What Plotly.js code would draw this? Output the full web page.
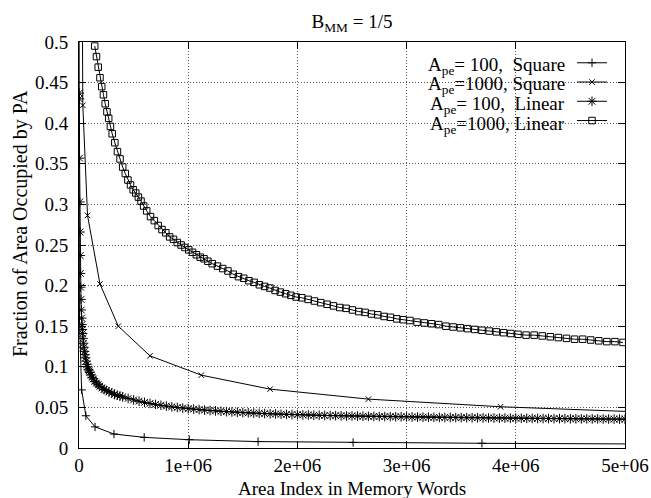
<!DOCTYPE html>
<html>
<head>
<meta charset="utf-8">
<script src="https://cdn.plot.ly/plotly-3.0.1.min.js"></script>
<style>html,body{margin:0;padding:0;background:#fff;}#chart{width:651px;height:498px;}</style>
</head>
<body>
<div id="chart"></div>
<script>
// ---- data ----
const chartTitle = 'B<sub>MM</sub> = 1/5';
const xTitle = 'Area Index in Memory Words';
const yTitle = 'Fraction of Area Occupied by PA';
const seriesLabels = [
  'A<sub>pe</sub>=\u00a0100,\u00a0\u00a0Square',
  'A<sub>pe</sub>=1000,\u00a0Square',
  'A<sub>pe</sub>=\u00a0100,\u00a0\u00a0Linear',
  'A<sub>pe</sub>=1000,\u00a0Linear'
];
const xTickVals = [0, 1000000, 2000000, 3000000, 4000000, 5000000];
const xTickText = ['0', '1e+06', '2e+06', '3e+06', '4e+06', '5e+06'];

// A_pe = 100, Square
const xSq100 = [256, 4000, 24000, 63000, 147000, 320000, 597000, 1010000, 1640000, 2510000, 3690000, 5200000];
const ySq100 = [0.64, 0.16, 0.0716, 0.0397, 0.026, 0.0172, 0.0131, 0.0102, 0.0079, 0.0068, 0.0058, 0.0049];

// A_pe = 1000, Square
const xSq1000 = [4300, 35000, 78000, 192000, 360000, 650000, 1120000, 1750000, 2650000, 3860000, 5500000];
const ySq1000 = [1.25, 0.422, 0.2865, 0.202, 0.150, 0.1135, 0.0897, 0.0725, 0.0602, 0.0508, 0.0426];

// A_pe = 100, Linear
const xLin100 = [2000,3000,5000,7000,9000,11000,13000,15000,18000,21000,24000,27000,30000,33000,37000,41000,45000,50000,55000,60000,66000,72000,78000,85000,92000,100000,110000,120000,132000,145000,160000,175000,190000,210000,230000,250000,275000,300000,325000,350000,375000,
400000,450000,500000,550000,600000,650000,700000,750000,800000,850000,900000,950000,1000000,
1050000,1100000,1150000,1200000,1250000,1300000,1350000,1400000,1450000,1500000,
1550000,1600000,1650000,1700000,1750000,1800000,1850000,1900000,1950000,2000000,
2050000,2100000,2150000,2200000,2250000,2300000,2350000,2400000,2450000,2500000,
2550000,2600000,2650000,2700000,2750000,2800000,2850000,2900000,2950000,3000000,
3050000,3100000,3150000,3200000,3250000,3300000,3350000,3400000,3450000,3500000,
3550000,3600000,3650000,3700000,3750000,3800000,3850000,3900000,3950000,4000000,
4050000,4100000,4150000,4200000,4250000,4300000,4350000,4400000,4450000,4500000,
4550000,4600000,4650000,4700000,4750000,4800000,4850000,4900000,4950000,5000000];
const yLin100 = [0.437,0.430,0.357,0.303,0.266,0.237,0.215,0.198,0.183,0.170,0.160,0.152,0.146,0.141,0.135,0.129,0.124,0.119,0.115,0.111,0.107,0.103,0.100,0.097,0.095,0.093,0.090,0.087,0.085,0.082,0.080,0.078,0.076,0.074,0.072,0.071,0.069,0.068,0.066,0.065,0.064,
0.0630,0.0610,0.0592,0.0576,0.0562,0.0549,0.0537,0.0526,0.0516,0.0507,0.0499,0.0492,0.0485,
0.0479,0.0473,0.0467,0.0462,0.0457,0.0452,0.0448,0.0444,0.0440,0.0436,
0.0433,0.0430,0.0427,0.0424,0.0421,0.0419,0.0416,0.0414,0.0412,0.0410,
0.0408,0.0406,0.0404,0.0403,0.0401,0.0400,0.0398,0.0397,0.0395,0.0394,
0.0393,0.0391,0.0390,0.0389,0.0388,0.0387,0.0386,0.0385,0.0384,0.0383,
0.0382,0.0381,0.0380,0.0379,0.0378,0.0377,0.0376,0.0376,0.0375,0.0374,
0.0373,0.0372,0.0372,0.0371,0.0370,0.0369,0.0369,0.0368,0.0367,0.0367,
0.0366,0.0365,0.0365,0.0364,0.0363,0.0363,0.0362,0.0362,0.0361,0.0360,
0.0360,0.0359,0.0359,0.0358,0.0358,0.0357,0.0357,0.0356,0.0356,0.0355];

// A_pe = 1000, Linear
const xLin1000 = [144000,160000,176000,192000,208000,224000,240000,256000,272000,288000,
304000,328000,352000,376000,400000,424000,448000,472000,496000,520000,544000,568000,592000,
620000,655000,690000,725000,760000,795000,830000,865000,900000,935000,970000,1005000,1040000,1075000,1110000,1145000,1180000,
1220000,1268000,1316000,1364000,1412000,1460000,1508000,1556000,1604000,1652000,1700000,1748000,1796000,1844000,1892000,1940000,1988000,
2040000,2098000,2156000,2214000,2272000,2330000,2388000,2446000,2504000,2562000,2620000,2678000,2736000,2794000,2852000,2910000,2968000,
3030000,3096000,3162000,3228000,3294000,3360000,3426000,3492000,3558000,3624000,3690000,3756000,3822000,3888000,3954000,
4020000,4094000,4168000,4242000,4316000,4390000,4464000,4538000,4612000,4686000,4760000,4834000,4908000,4982000];
const yLin1000 = [0.495,0.482,0.469,0.456,0.445,0.435,0.424,0.414,0.406,0.396,
0.387,0.376,0.365,0.356,0.346,0.338,0.330,0.324,0.318,0.314,0.309,0.304,0.298,
0.292,0.285,0.280,0.274,0.269,0.265,0.260,0.257,0.253,0.250,0.247,0.244,0.241,0.238,0.235,0.233,0.230,
0.227,0.224,0.221,0.218,0.214,0.211,0.209,0.206,0.204,0.201,0.199,0.197,0.194,0.192,0.190,0.188,0.186,
0.185,0.183,0.181,0.179,0.177,0.175,0.173,0.172,0.170,0.168,0.167,0.165,0.164,0.162,0.161,0.159,0.158,
0.157,0.155,0.154,0.153,0.152,0.150,0.149,0.148,0.147,0.146,0.145,0.144,0.143,0.142,0.141,
0.140,0.139,0.139,0.138,0.137,0.136,0.135,0.134,0.134,0.133,0.132,0.131,0.131,0.130];

// ---- chart ----
const FONT = 'Liberation Serif, Times New Roman, serif';
const FS = 19;
const L = 79, R = 26, T = 42, B = 50;
const PW = 651 - L - R, PH = 498 - T - B;

function mk(x, y, symbol, size) {
  return {
    x: x, y: y, type: 'scatter', mode: 'lines+markers', name: '\u00a0',
    line: {color: '#000', width: 1},
    marker: {symbol: symbol, size: size, color: '#000', line: {color: '#000', width: 1}},
    hoverinfo: 'skip'
  };
}

const traces = [
  mk(xSq100, ySq100, 'cross-thin-open', 6),
  mk(xSq1000, ySq1000, 'x-thin-open', 5.5),
  mk(xLin100, yLin100, 'asterisk-open', 8),
  mk(xLin1000, yLin1000, 'square-open', 6.5)
];

const rowsPx = [66, 85.5, 105, 124.5];
const annotations = seriesLabels.map((t, i) => ({
  text: t, xref: 'paper', yref: 'paper',
  x: (567 - L) / PW, y: (498 - B - rowsPx[i]) / PH,
  xanchor: 'right', yanchor: 'middle', showarrow: false,
  font: {family: FONT, size: FS, color: '#000'}
}));
annotations.push({
  text: xTitle, xref: 'paper', yref: 'paper',
  x: 0.5, y: (498 - B - 488) / PH, xanchor: 'center', yanchor: 'middle',
  showarrow: false, font: {family: FONT, size: FS, color: '#000'}
});
annotations.push({
  text: yTitle, xref: 'paper', yref: 'paper', textangle: -90,
  x: (20 - L) / PW, y: (498 - B - 224) / PH, xanchor: 'center', yanchor: 'middle',
  showarrow: false, font: {family: FONT, size: 20, color: '#000'}
});

const gridStyle = {gridcolor: '#555', griddash: '1px,2px', gridwidth: 1};

const layout = {
  width: 651, height: 498,
  margin: {l: L, r: R, t: T, b: B},
  paper_bgcolor: '#fff', plot_bgcolor: '#fff',
  font: {family: FONT, size: FS, color: '#000'},
  title: {text: chartTitle, font: {family: FONT, size: FS, color: '#000'},
          x: 0.5, xref: 'paper', y: 1 - 21 / 498, yref: 'container', yanchor: 'middle'},
  showlegend: true,
  legend: {x: (572 - L) / PW, y: 0.975 + 4 / PH, xanchor: 'left', yanchor: 'top',
           bgcolor: 'rgba(0,0,0,0)', borderwidth: 0, font: {family: FONT, size: 12.5},
           tracegroupgap: 0},
  annotations: annotations,
  xaxis: Object.assign({
    range: [0, 5000000], tickvals: xTickVals, ticktext: xTickText,
    showline: true, linecolor: '#000', linewidth: 1, mirror: 'allticks',
    ticks: 'inside', ticklen: 7, tickcolor: '#000', zeroline: false,
    ticklabelstandoff: 0, ticklabeloverflow: 'allow',
    automargin: false
  }, gridStyle),
  yaxis: Object.assign({
    range: [0, 0.5], dtick: 0.05, tick0: 0,
    showline: true, linecolor: '#000', linewidth: 1, mirror: 'allticks',
    ticks: 'inside', ticklen: 7, tickcolor: '#000', zeroline: false,
    ticklabelstandoff: 6,
    automargin: false
  }, gridStyle)
};

Plotly.newPlot('chart', traces, layout, {staticPlot: true, displayModeBar: false});
</script>
</body>
</html>
